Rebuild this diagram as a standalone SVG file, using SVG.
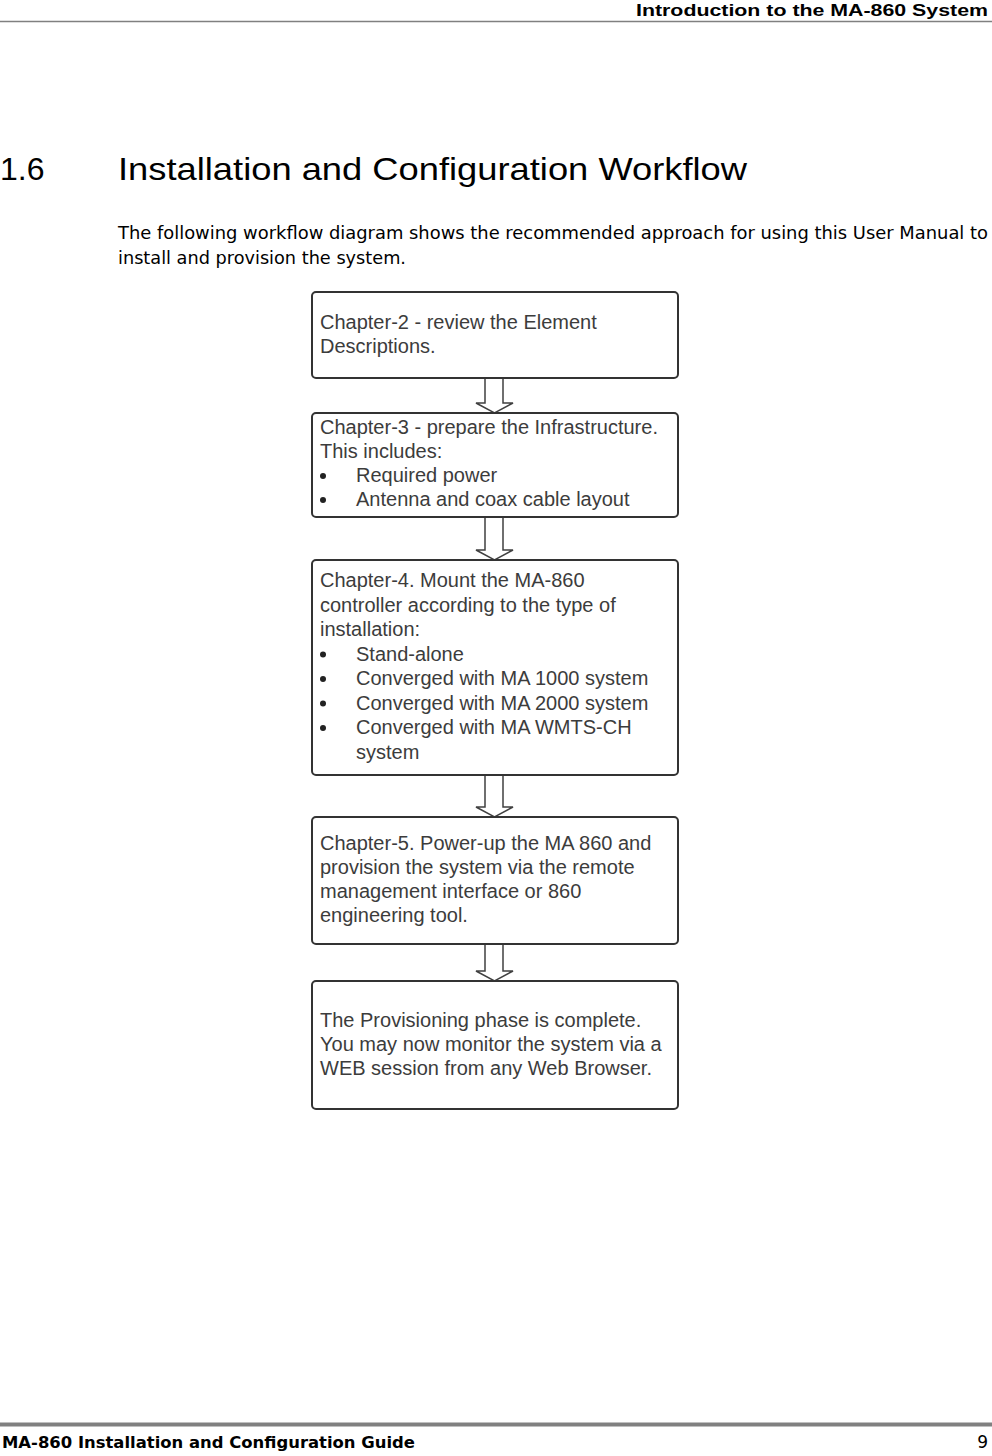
<svg xmlns="http://www.w3.org/2000/svg" width="992" height="1456" viewBox="0 0 992 1456">
<style>
.box{fill:#fff;stroke:#333;stroke-width:2}
.t{font-family:"Liberation Sans",Arial,sans-serif;font-size:20px;fill:#3c3c3c}
.arrow{fill:#fff;stroke:#404040;stroke-width:1.5;stroke-linejoin:miter}
.bul{fill:#222}
</style>
<rect width="992" height="1456" fill="#fff"/>
<g id="header">
<text x="988" y="16" text-anchor="end" font-family="'Liberation Sans',Arial,sans-serif" font-weight="bold" font-size="17" textLength="352" lengthAdjust="spacingAndGlyphs" fill="#000">Introduction to the MA-860 System</text>
<line x1="0" y1="21.5" x2="992" y2="21.5" stroke="#808080" stroke-width="1.5"/>
</g>
<g id="title">
<text x="0" y="180" font-family="'Liberation Sans',Arial,sans-serif" font-size="32" fill="#000">1.6</text>
<text x="118" y="180" font-family="'Liberation Sans',Arial,sans-serif" font-size="32" fill="#000" textLength="629" lengthAdjust="spacingAndGlyphs">Installation and Configuration Workflow</text>
</g>
<g id="intro">
<text x="118" y="239" font-family="'DejaVu Sans',Tahoma,sans-serif" font-size="17" fill="#000" textLength="870" lengthAdjust="spacingAndGlyphs">The following workflow diagram shows the recommended approach for using this User Manual to</text>
<text x="118" y="264" font-family="'DejaVu Sans',Tahoma,sans-serif" font-size="17" fill="#000" textLength="288" lengthAdjust="spacingAndGlyphs">install and provision the system.</text>
</g>
<g id="connectors">
<path class="arrow" d="M485,378 V403 H476 L494.5,413 L513,403 H503 V378"/>
<path class="arrow" d="M485,517 V550 H476 L494.5,560 L513,550 H503 V517"/>
<path class="arrow" d="M485,775 V807 H476 L494.5,817 L513,807 H503 V775"/>
<path class="arrow" d="M485,944 V971 H476 L494.5,981 L513,971 H503 V944"/>
</g>
<g id="node-chapter2">
<rect class="box" x="312" y="292" width="366" height="86" rx="4"/>
<text class="t" x="320" y="329">Chapter-2 - review the Element</text>
<text class="t" x="320" y="353">Descriptions.</text>
</g>
<g id="node-chapter3">
<rect class="box" x="312" y="413" width="366" height="104" rx="4"/>
<text class="t" x="320" y="433.5">Chapter-3 - prepare the Infrastructure.</text>
<text class="t" x="320" y="457.5">This includes:</text>
<circle class="bul" cx="323" cy="476" r="3"/>
<text class="t" x="356" y="482">Required power</text>
<circle class="bul" cx="323" cy="500" r="3"/>
<text class="t" x="356" y="506">Antenna and coax cable layout</text>
</g>
<g id="node-chapter4">
<rect class="box" x="312" y="560" width="366" height="215" rx="4"/>
<text class="t" x="320" y="587">Chapter-4. Mount the MA-860</text>
<text class="t" x="320" y="611.5">controller according to the type of</text>
<text class="t" x="320" y="636">installation:</text>
<circle class="bul" cx="323" cy="654.5" r="3"/>
<text class="t" x="356" y="660.5">Stand-alone</text>
<circle class="bul" cx="323" cy="679" r="3"/>
<text class="t" x="356" y="685">Converged with MA 1000 system</text>
<circle class="bul" cx="323" cy="703.5" r="3"/>
<text class="t" x="356" y="709.5">Converged with MA 2000 system</text>
<circle class="bul" cx="323" cy="728" r="3"/>
<text class="t" x="356" y="734">Converged with MA WMTS-CH</text>
<text class="t" x="356" y="758.5">system</text>
</g>
<g id="node-chapter5">
<rect class="box" x="312" y="817" width="366" height="127" rx="4"/>
<text class="t" x="320" y="850">Chapter-5. Power-up the MA 860 and</text>
<text class="t" x="320" y="874">provision the system via the remote</text>
<text class="t" x="320" y="898">management interface or 860</text>
<text class="t" x="320" y="922">engineering tool.</text>
</g>
<g id="node-complete">
<rect class="box" x="312" y="981" width="366" height="128" rx="4"/>
<text class="t" x="320" y="1026.5">The Provisioning phase is complete.</text>
<text class="t" x="320" y="1050.5">You may now monitor the system via a</text>
<text class="t" x="320" y="1075">WEB session from any Web Browser.</text>
</g>
<g id="footer">
<line x1="0" y1="1424.5" x2="992" y2="1424.5" stroke="#808080" stroke-width="4"/>
<text x="2" y="1448" font-family="'DejaVu Sans',Tahoma,sans-serif" font-weight="bold" font-size="16" fill="#000" textLength="413" lengthAdjust="spacingAndGlyphs">MA-860 Installation and Configuration Guide</text>
<text x="988" y="1448" text-anchor="end" font-family="'DejaVu Sans',Tahoma,sans-serif" font-size="17" fill="#000">9</text>
</g>
</svg>
